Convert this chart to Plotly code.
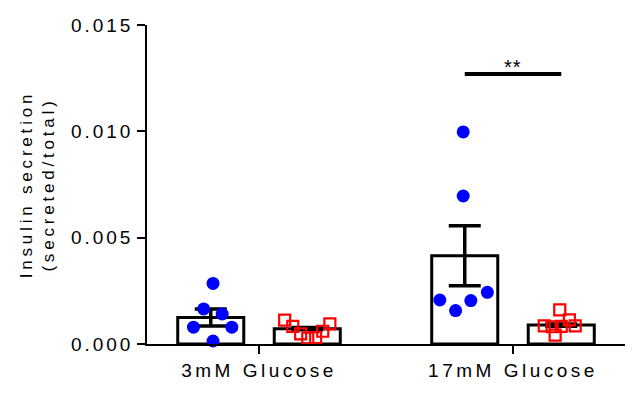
import plotly.graph_objects as go

# ---- data ----
groups = ["3mM Glucose", "17mM Glucose"]
group_pos = [0, 1]

blue_g1 = [0.00285, 0.00165, 0.00141, 0.00079, 0.00079, 0.00014]
blue_g2 = [0.00997, 0.00696, 0.00207, 0.00157, 0.00204, 0.00243]
red_g1 = [0.00112, 0.00083, 0.00048, 0.00028, 0.00030, 0.00060, 0.00095]
red_g2 = [0.00160, 0.00113, 0.00085, 0.00081, 0.00083, 0.00085, 0.00042]

blue_mean = [0.00125, 0.00415]
blue_sem = [0.00040, 0.00141]
red_mean = [0.00072, 0.00089]
red_sem = [0.00005, 0.00005]

sig_y = 0.0127
sig_text = "**"

y_tickvals = [0, 0.005, 0.010, 0.015]
y_ticktext = ["0.000", "0.005", "0.010", "0.015"]
y_title = ["Insulin secretion", "(secreted/total)"]

# ---- styling / placement ----
OFF = 0.19
BAR_W = 0.26
blue_jit_g1 = [0.009, -0.028, 0.045, -0.068, 0.083, 0.009]
blue_jit_g2 = [-0.006, -0.006, -0.098, -0.036, 0.024, 0.089]
red_jit_g1 = [-0.089, -0.057, -0.026, 0.002, 0.033, 0.061, 0.089]
red_jit_g2 = [-0.006, 0.032, -0.067, -0.036, 0.0, 0.055, -0.024]

FONT = "Liberation Sans, Arial, sans-serif"


def spaced(t, ls):
    return f'<span style="letter-spacing:{ls}px">{t}</span>'


fig = go.Figure()

bx = [g - OFF for g in group_pos]
rx = [g + OFF for g in group_pos]

for xs, means, sems in ((bx, blue_mean, blue_sem), (rx, red_mean, red_sem)):
    fig.add_trace(go.Bar(
        x=xs, y=means, width=BAR_W,
        marker=dict(color="white", line=dict(color="black", width=3)),
        error_y=dict(type="data", array=sems, visible=True, color="black",
                     thickness=3.5, width=16),
        showlegend=False, hoverinfo="skip",
    ))

blue_x = [group_pos[0] - OFF + j for j in blue_jit_g1] + [group_pos[1] - OFF + j for j in blue_jit_g2]
blue_y = blue_g1 + blue_g2
red_x = [group_pos[0] + OFF + j for j in red_jit_g1] + [group_pos[1] + OFF + j for j in red_jit_g2]
red_y = red_g1 + red_g2

fig.add_trace(go.Scatter(
    x=blue_x, y=blue_y, mode="markers", cliponaxis=False,
    marker=dict(symbol="circle", size=13, color="#0000ff", line=dict(width=0)),
    showlegend=False,
))
fig.add_trace(go.Scatter(
    x=red_x, y=red_y, mode="markers", cliponaxis=False,
    marker=dict(symbol="square-open", size=11, color="#ff0000",
                line=dict(width=2.2, color="#ff0000")),
    showlegend=False,
))

# significance bar
fig.add_shape(type="line", xref="x", yref="y",
              x0=group_pos[1] - OFF, x1=group_pos[1] + OFF, y0=sig_y, y1=sig_y,
              line=dict(color="black", width=4))
fig.add_annotation(x=group_pos[1], y=sig_y, xref="x", yref="y", text=spaced(sig_text, 1),
                   showarrow=False, yanchor="bottom", yshift=-6,
                   font=dict(family=FONT, size=20, color="black"))

fig.update_layout(
    width=634, height=398,
    margin=dict(l=147, r=9, t=25, b=54),
    paper_bgcolor="white", plot_bgcolor="white",
    barmode="overlay",
    font=dict(family=FONT, color="black"),
)
fig.update_xaxes(
    range=[-0.441, 1.441], tickvals=group_pos,
    ticktext=[spaced(g, 3.5) for g in groups],
    tickfont=dict(family=FONT, size=19, color="black"),
    showline=True, linecolor="black", linewidth=1.5,
    ticks="outside", ticklen=8, tickwidth=1.5, tickcolor="black",
    showgrid=False, zeroline=False,
)
fig.update_yaxes(
    range=[0, 0.015], tickvals=y_tickvals,
    ticktext=[spaced(t, 3) for t in y_ticktext],
    tickfont=dict(family=FONT, size=19, color="black"),
    showline=True, linecolor="black", linewidth=1.5,
    ticks="outside", ticklen=8, tickwidth=1.5, tickcolor="black",
    showgrid=False, zeroline=False,
    title=dict(text=spaced(y_title[0], 3.8) + "<br>" + spaced(y_title[1], 3.8),
               font=dict(family=FONT, size=17, color="black"), standoff=12),
)

fig.write_html("out.html", config={"displayModeBar": False},
               post_script="document.body.style.margin='0';")
